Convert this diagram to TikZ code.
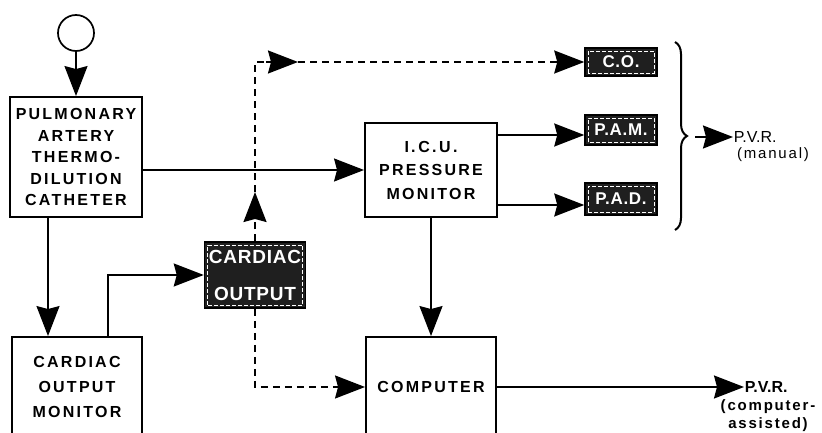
\documentclass[tikz,border=0pt]{standalone}
\usepackage{fontspec}
\setmainfont{Liberation Sans}
\newfontfamily\lab[LetterSpace=14]{Liberation Sans}
\newfontfamily\labw[LetterSpace=12]{Liberation Sans}
\newfontfamily\labd[LetterSpace=4]{Liberation Sans}
\usetikzlibrary{arrows.meta,decorations.pathreplacing}
\begin{document}
\begin{tikzpicture}[x=1pt,y=-1pt,
  line width=1.7pt,
  arr/.style={-{Stealth[length=30pt,width=23pt,inset=3pt]}},
  dashline/.style={dash pattern=on 7pt off 5pt,line width=1.8pt},
  box/.style={draw,line width=1.9pt,align=center,inner sep=0pt,
    font=\lab\bfseries\fontsize{16}{22}\selectfont},
  dark/.style={fill=black!88,text=white,draw=black,line width=1.5pt,align=center,inner sep=0pt,
    font=\labd\bfseries\fontsize{19}{37}\selectfont,
    path picture={\draw[white,dash pattern=on 4pt off 2pt,line width=0.9pt]
      ([shift={(3pt,3pt)}]path picture bounding box.south west) rectangle
      ([shift={(-3pt,-3pt)}]path picture bounding box.north east);}},
  lbl/.style={inner sep=0pt,align=center}
]
\useasboundingbox (0,0) rectangle (822,433);
\clip (0,0) rectangle (822,433);

% nodes
\node[draw,circle,line width=1.7pt,minimum size=36pt,inner sep=0pt] (src) at (76,33) {};
\node[box,minimum width=132pt,minimum height=120pt,font=\lab\bfseries\fontsize{16}{21.5}\selectfont] (pa) at (76,157)
  {PULMONARY\\ARTERY\\THERMO-\\DILUTION\\CATHETER};
\node[box,minimum width=132pt,minimum height=94pt,font=\lab\bfseries\fontsize{16}{23.5}\selectfont] (icu) at (431,170)
  {I.\,C.\,U.\\PRESSURE\\MONITOR};
\node[box,minimum width=130pt,minimum height=100pt,font=\lab\bfseries\fontsize{16}{25}\selectfont] (com) at (77,387)
  {CARDIAC\\OUTPUT\\MONITOR};
\node[box,minimum width=130pt,minimum height=100pt] (comp) at (431,387) {COMPUTER};

\node[dark,minimum width=101pt,minimum height=66pt] (cardiac) at (255,275) {CARDIAC\\OUTPUT};
\node[dark,minimum width=72pt,minimum height=28pt,font=\labd\bfseries\fontsize{17}{18}\selectfont] (co) at (621,62) {C.O.};
\node[dark,minimum width=72pt,minimum height=30pt,font=\labd\bfseries\fontsize{17}{18}\selectfont] (pam) at (621,130) {P.A.M.};
\node[dark,minimum width=72pt,minimum height=32pt,font=\labd\bfseries\fontsize{17}{18}\selectfont] (pad) at (621,199) {P.A.D.};

\node[lbl,anchor=west,font=\fontsize{16}{18}\selectfont] (pvr1) at (733,137) {P.V.R.};
\node[lbl,font=\labw\fontsize{15}{17}\selectfont] (man) at (773,155) {(manual)};
\node[lbl,anchor=west,font=\bfseries\fontsize{16}{18}\selectfont] (pvr2) at (744,387) {P.V.R.};
\node[lbl,font=\labw\bfseries\fontsize{15}{18}\selectfont] (cass) at (768,416) {(computer-\\assisted)};

\coordinate (midA) at (298,62);
\coordinate (upA) at (255,192);
\coordinate (bt) at (695,137);

% connectors
\draw[arr] (src.south) -- (pa.north);
\draw[arr] (pa.east |- icu.west) -- (icu.west);
\draw[arr] ([yshift=-35pt]icu.east) -- ([yshift=-35pt]icu.east -| pam.west);
\draw[arr] ([yshift=35pt]icu.east) -- ([yshift=35pt]icu.east -| pad.west);
\draw[arr] (icu.south) -- (comp.north);
\draw[arr] ([xshift=-28pt]pa.south) -- ([xshift=-28pt]pa.south |- com.north);
\draw[arr] ([xshift=31pt]com.north) |- (cardiac.west);
\draw[arr] (comp.east) -- (pvr2.west);

\draw[dashline,arr] (cardiac.north) -- (upA);
\draw[dashline] (upA) |- ([xshift=-10pt]midA);
\draw[dashline,arr] ([xshift=-32pt]midA) -- (midA);
\draw[dashline,arr] (midA) -- (co.west);
\draw[dashline,arr] (cardiac.south) |- (comp.west);

\draw[line width=2pt,decorate,decoration={brace,amplitude=12pt}] (675,42) -- (675,230);
\draw[arr] (bt) -- (pvr1.west);
\end{tikzpicture}
\end{document}
